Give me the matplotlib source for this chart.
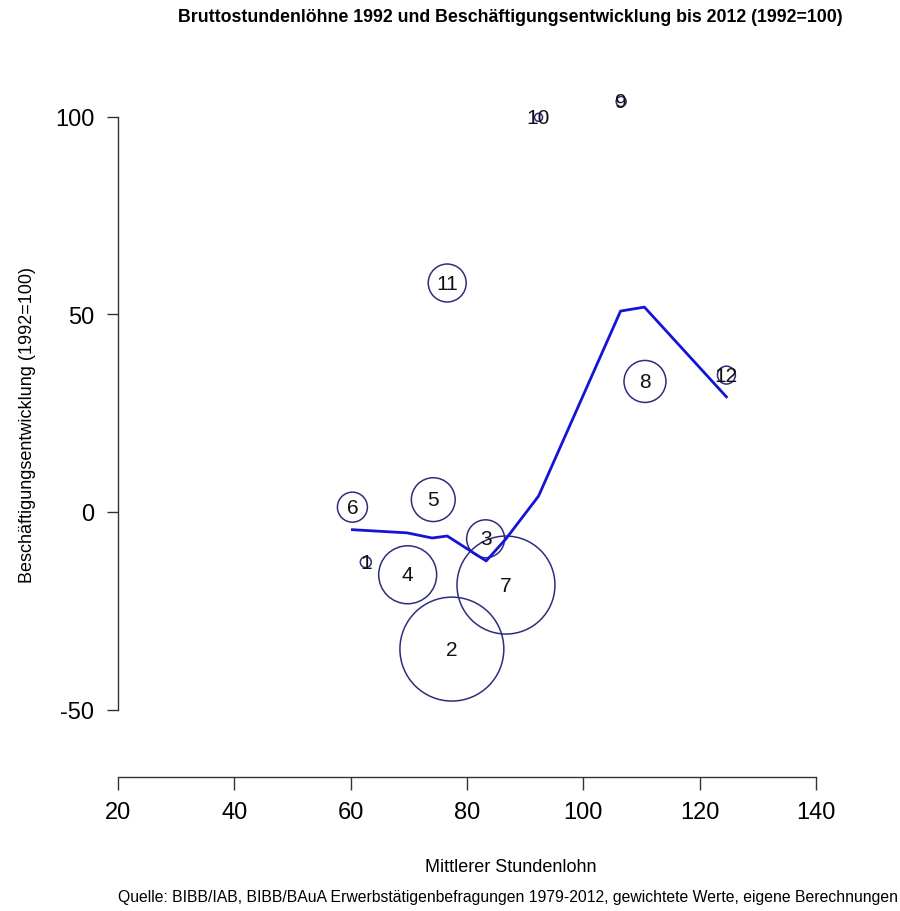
import numpy as np
import matplotlib
matplotlib.use("Agg")
import matplotlib.pyplot as plt

plt.rcParams['font.family'] = ['Liberation Sans', 'DejaVu Sans']
plt.rcParams['axes.unicode_minus'] = False

# Berufsgruppen (Blasen)
gruppe = ['1', '2', '3', '4', '5', '6', '7', '8', '9', '10', '11', '12']
lohn = [62.6, 77.4, 83.2, 69.8, 74.2, 60.3, 86.7, 110.6, 106.5, 92.3, 76.6, 124.6]
entw = [-12.7, -34.7, -6.8, -15.9, 3.1, 1.2, -18.5, 33.0, 103.8, 99.8, 57.9, 34.6]
anteil = [0.3, 27.0, 3.6, 8.4, 4.8, 2.25, 24.0, 4.4, 0.25, 0.16, 3.6, 0.8]

# Linie
linie_x = [60.3, 69.7, 74.0, 76.6, 83.3, 86.7, 92.3, 106.4, 110.5, 124.6]
linie_y = [-4.5, -5.3, -6.6, -6.1, -12.4, -6.8, 4.0, 50.8, 51.8, 29.1]

dpi = 100
fig = plt.figure(figsize=(9, 9.12), dpi=dpi)
W, H = 900, 912
ax = fig.add_axes([118 / W, (H - 760) / H, (816 - 118) / W, (760 - 80) / H])
ax.set_xlim(20, 140)
ax.set_ylim(-62.5, 109.5)

# Radius in Pixel ~ Wurzel aus Anteil
r_px = 10 * np.sqrt(np.array(anteil))
s = (2 * r_px * 72 / dpi) ** 2
ax.scatter(lohn, entw, s=s, facecolors='none', edgecolors='#2e2e7e',
           linewidths=1.1, clip_on=False, zorder=2)
for g, x, y in zip(gruppe, lohn, entw):
    ax.text(x, y, g, ha='center', va='center', fontsize=15, color='#111111', zorder=3)

ax.plot(linie_x, linie_y, color='#1414d4', lw=2.0, zorder=4)

for sp in ['top', 'right']:
    ax.spines[sp].set_visible(False)
ax.spines['left'].set_bounds(-50, 100)
ax.spines['bottom'].set_bounds(20, 140)
ax.spines['bottom'].set_position(('outward', 13))
for sp in ['left', 'bottom']:
    ax.spines[sp].set_color('#333333')
    ax.spines[sp].set_linewidth(1.0)

ax.set_xticks([20, 40, 60, 80, 100, 120, 140])
ax.set_yticks([-50, 0, 50, 100])
ax.tick_params(axis='x', length=9, width=1.0, color='#333333', labelsize=17, pad=8)
ax.tick_params(axis='y', length=8, width=1.0, color='#333333', labelsize=17, pad=9)

fig.text(28 / W, 1 - 425 / H, 'Beschäftigungsentwicklung (1992=100)', rotation=90,
         ha='center', va='center', fontsize=13)
fig.text(511 / W, 1 - 868 / H, 'Mittlerer Stundenlohn', ha='center', va='center', fontsize=13)
fig.text(508 / W, 1 - 898 / H,
         'Quelle: BIBB/IAB, BIBB/BAuA Erwerbstätigenbefragungen 1979-2012, gewichtete Werte, eigene Berechnungen',
         ha='center', va='center', fontsize=11.3)
fig.text(510 / W, 1 - 18 / H,
         'Bruttostundenlöhne 1992 und Beschäftigungsentwicklung bis 2012 (1992=100)',
         ha='center', va='center', fontsize=12.8, fontweight='bold')

fig.savefig('out.png', dpi=dpi)
